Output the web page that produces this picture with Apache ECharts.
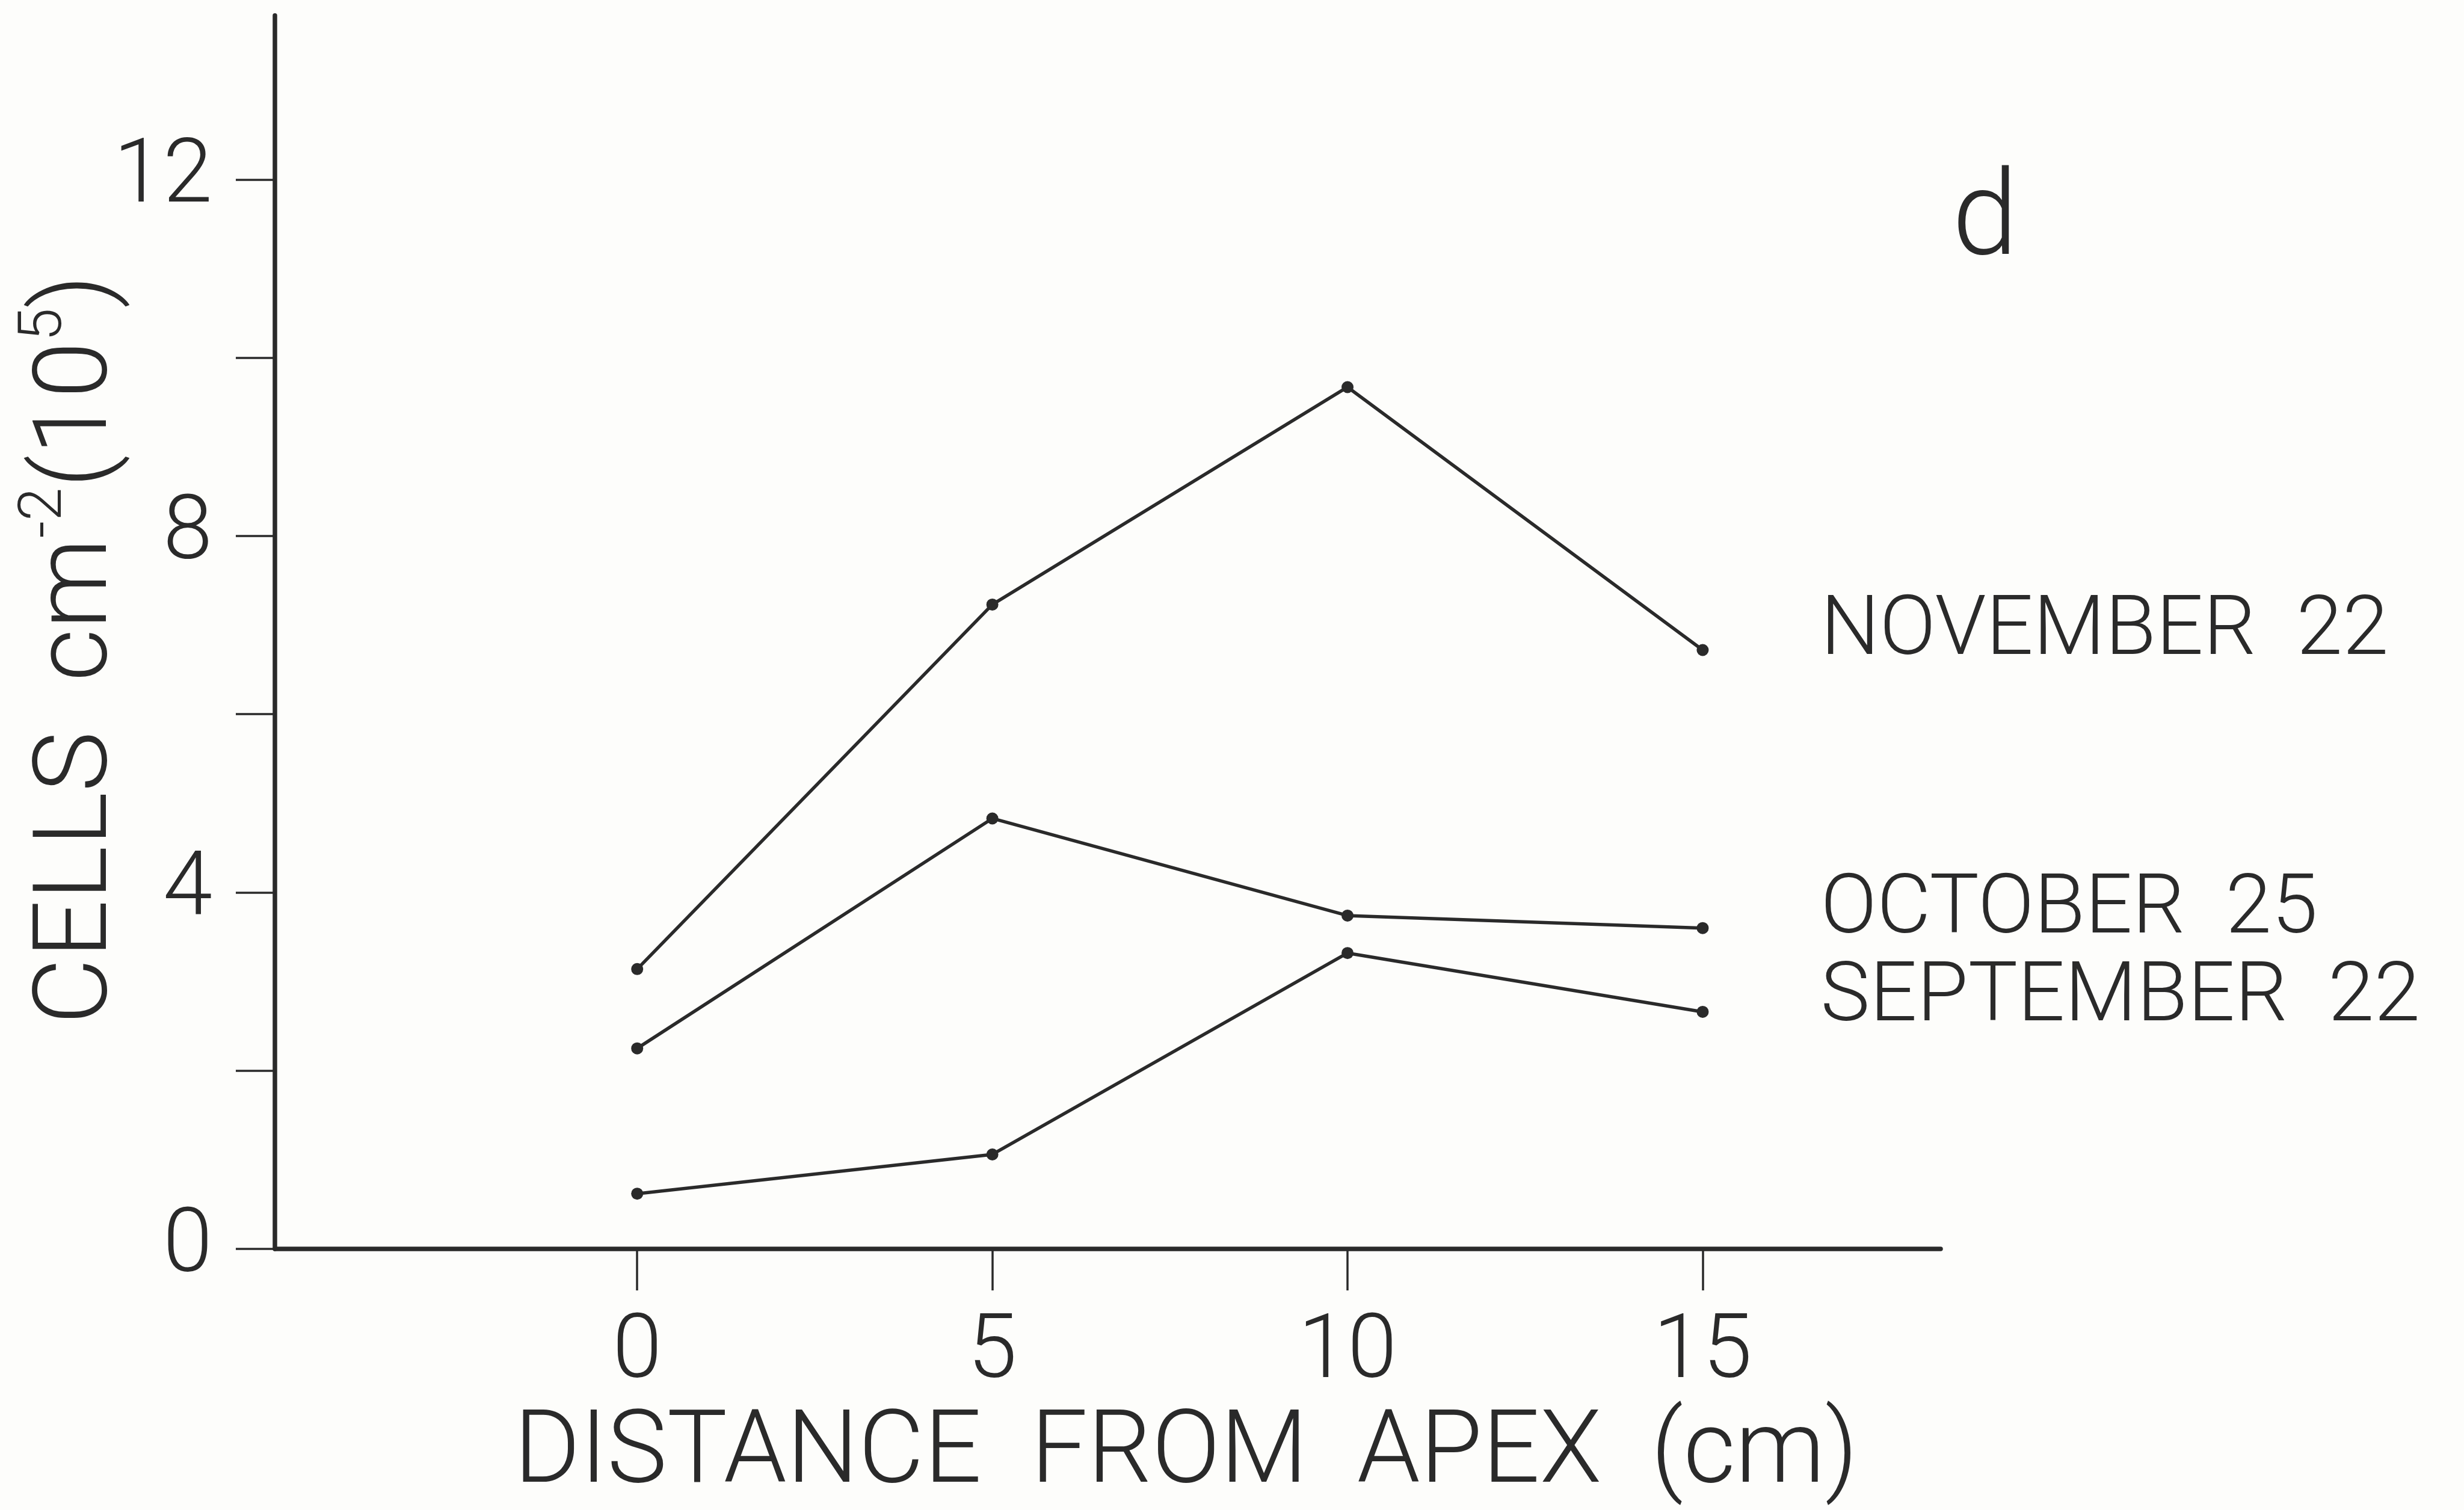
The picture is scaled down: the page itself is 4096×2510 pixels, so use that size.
<!DOCTYPE html>
<html>
<head>
<meta charset="utf-8">
<script src="https://cdn.jsdelivr.net/npm/echarts@6/dist/echarts.min.js"></script>
<style>
  html, body { margin: 0; padding: 0; background: #fdfdfb; }
  #chart { width: 4096px; height: 2510px; }
</style>
</head>
<body>
<div id="chart"></div>
<script>
// distance from apex (cm)
const distances = [0, 5, 10, 15];
// cells cm^-2 (10^5)
const november22 = [3.14, 7.23, 9.67, 6.72];
const october25 = [2.25, 4.83, 3.74, 3.60];
const september22 = [0.62, 1.06, 3.32, 2.66];
const seriesNames = ['NOVEMBER  22', 'OCTOBER  25', 'SEPTEMBER  22'];
const xTicks = [0, 5, 10, 15];
const yMajorTicks = [0, 4, 8, 12];
const yAllTicks = [0, 2, 4, 6, 8, 10, 12];

const ink = '#2a2a2a';
const font = 'Roboto, "DejaVu Sans", sans-serif';

const chart = echarts.init(document.getElementById('chart'));

function pairs(ys) {
  return distances.map((x, i) => [x, ys[i]]);
}

// each series gets its own end label offset, like the hand lettering
function makeSeries(name, ys, dy) {
  return {
    name: name,
    type: 'line',
    data: pairs(ys),
    symbol: 'circle',
    symbolSize: 20,
    itemStyle: { color: ink },
    lineStyle: { color: ink, width: 5.5 },
    endLabel: {
      show: true,
      formatter: '{a}',
      distance: 196,
      offset: [0, dy],
      color: ink,
      fontFamily: font,
      fontWeight: 300,
      fontSize: 138
    },
    emphasis: { disabled: true }
  };
}

const option = {
  animation: false,
  backgroundColor: '#fdfdfb',
  textStyle: { fontFamily: font },
  title: {
    text: 'd',
    left: 3240,
    top: 269,
    textStyle: { fontFamily: font, fontWeight: 300, fontSize: 197, color: ink }
  },
  grid: { left: 457, right: 870, top: 25.7, bottom: 420, containLabel: false },
  xAxis: {
    type: 'value',
    min: -5.1,
    max: 18.35,
    name: 'DISTANCE  FROM  APEX  (cm)',
    nameLocation: 'middle',
    nameGap: 261,
    nameMoveOverlap: false,
    nameTextStyle: {
      fontFamily: font, fontWeight: 300, fontSize: 168, color: ink,
      padding: [0, 0, 0, 260]
    },
    axisLine: { onZero: false, lineStyle: { color: ink, width: 7.5 } },
    axisTick: { show: true, inside: false, length: 69, customValues: xTicks, lineStyle: { color: ink, width: 3.5 } },
    axisLabel: {
      customValues: xTicks, margin: 102,
      fontFamily: font, fontWeight: 300, fontSize: 148, color: ink
    },
    splitLine: { show: false }
  },
  yAxis: {
    type: 'value',
    min: 0,
    max: 13.84,
    name: '{a|CELLS  cm}{s|-2}{a|(10}{s|5}{a|)}',
    nameLocation: 'middle',
    nameRotate: 90,
    nameGap: 217,
    nameMoveOverlap: false,
    nameTextStyle: {
      padding: [0, 58, 0, 0],
      rich: {
        a: { fontFamily: font, fontWeight: 300, fontSize: 170, lineHeight: 214, color: ink },
        s: { fontFamily: font, fontWeight: 300, fontSize: 100, lineHeight: 100, verticalAlign: 'top', color: ink }
      }
    },
    axisLine: { show: true, onZero: false, lineStyle: { color: ink, width: 7.5 } },
    axisTick: { show: true, inside: false, length: 65, customValues: yAllTicks, lineStyle: { color: ink, width: 3.5 } },
    axisLabel: {
      customValues: yMajorTicks, margin: 104,
      fontFamily: font, fontWeight: 300, fontSize: 148, color: ink
    },
    splitLine: { show: false }
  },
  series: [
    makeSeries(seriesNames[0], november22, -28),
    makeSeries(seriesNames[1], october25, -27),
    makeSeries(seriesNames[2], september22, -20)
  ]
};

chart.setOption(option);
</script>
</body>
</html>
